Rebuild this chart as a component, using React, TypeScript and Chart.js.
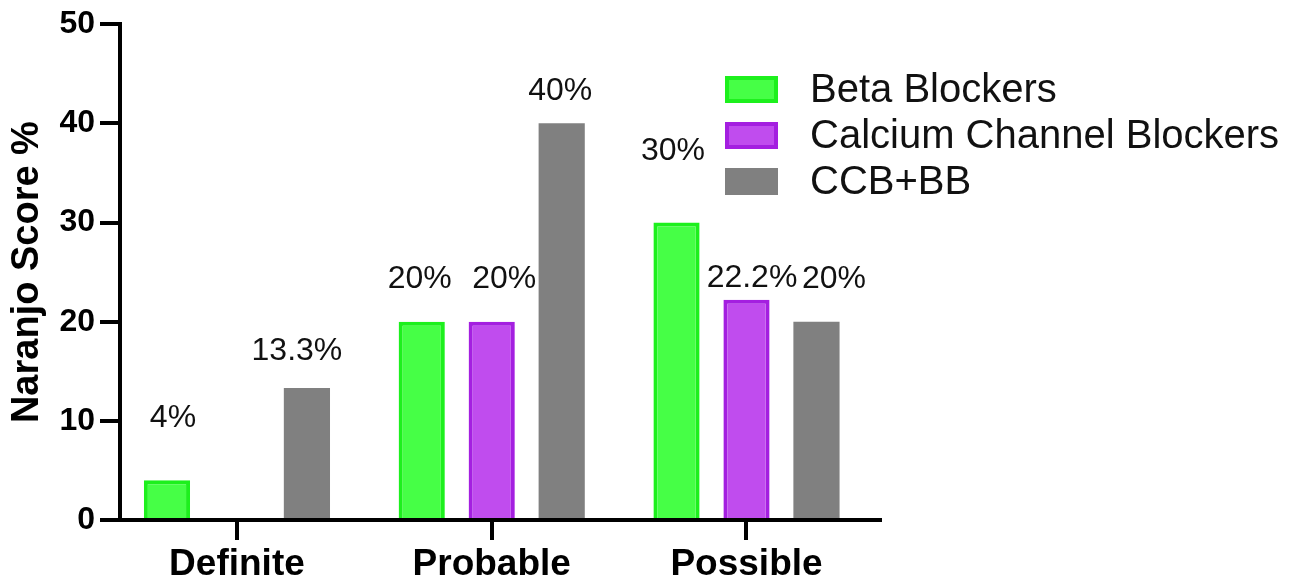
import React, { useEffect, useRef } from "react";
import { Chart, registerables } from "chart.js";

Chart.register(...registerables);

// Naranjo causality categories and the share of cases (%) in each drug group
const categories = ["Definite", "Probable", "Possible"];
const seriesNames = ["Beta Blockers", "Calcium Channel Blockers", "CCB+BB"];
const betaBlockers: (number | null)[] = [4, 20, 30];
const calciumChannelBlockers: (number | null)[] = [null, 20, 22.2];
const ccbPlusBb: (number | null)[] = [13.3, 40, 20];
const yTickValues = [0, 10, 20, 30, 40, 50];

// Hand placement of each value label, in px from the top-centre of its bar
const betaLabelNudge = [[6, -62], [-2, -43], [-3.5, -71]];
const ccbLabelNudge = [[0, 0], [12.5, -43], [5.5, -21.5]];
const comboLabelNudge = [[-10, -37], [-1.5, -32], [17.5, -43]];

const FONT = "'Liberation Sans', Arial, Helvetica, sans-serif";

const seriesStyle = [
  { fill: "#46ff46", border: "#1df01d" },
  { fill: "#c04cee", border: "#a41fe0" },
  { fill: "#808080", border: "#808080" },
];

const valueLabels = {
  id: "valueLabels",
  afterDatasetsDraw(chart: any, _args: any, opts: any) {
    const { ctx } = chart;
    ctx.save();
    ctx.font = `normal 32px ${FONT}`;
    ctx.fillStyle = "#111";
    ctx.textAlign = "center";
    ctx.textBaseline = "middle";
    chart.data.datasets.forEach((ds: any, di: number) => {
      const meta = chart.getDatasetMeta(di);
      meta.data.forEach((bar: any, i: number) => {
        const v = ds.data[i]?.y;
        if (v === null || v === undefined) return;
        const [dx, dy] = opts.nudges[di][i];
        ctx.fillText(`${v}%`, bar.x + dx, bar.y + dy);
      });
    });
    ctx.restore();
  },
};

const boxLegend = {
  id: "boxLegend",
  afterDraw(chart: any, _args: any, opts: any) {
    const { ctx } = chart;
    ctx.save();
    ctx.font = `normal 40px ${FONT}`;
    ctx.textAlign = "left";
    ctx.textBaseline = "middle";
    chart.data.datasets.forEach((ds: any, i: number) => {
      const cy = opts.top + i * opts.rowGap;
      const x = opts.left;
      ctx.fillStyle = ds.backgroundColor;
      ctx.fillRect(x, cy - opts.boxH / 2, opts.boxW, opts.boxH);
      if (ds.borderColor !== ds.backgroundColor) {
        ctx.strokeStyle = ds.borderColor;
        ctx.lineWidth = 4;
        ctx.strokeRect(x + 2, cy - opts.boxH / 2 + 2, opts.boxW - 4, opts.boxH - 4);
      }
      ctx.fillStyle = "#111";
      ctx.fillText(ds.label, x + opts.boxW + 32, cy + 1);
    });
    ctx.restore();
  },
};

export default function App() {
  const canvasRef = useRef<HTMLCanvasElement | null>(null);

  useEffect(() => {
    if (!canvasRef.current) return;
    const seriesValues = [betaBlockers, calciumChannelBlockers, ccbPlusBb];
    const chart = new Chart(canvasRef.current, {
      type: "bar",
      data: {
        datasets: seriesValues.map((vals, si) => ({
          label: seriesNames[si],
          data: vals.map((y, i) => ({ x: i, y })),
          backgroundColor: seriesStyle[si].fill,
          borderColor: seriesStyle[si].border,
          borderWidth: si === 2 ? 0 : 4,
          categoryPercentage: 0.824,
          barPercentage: 0.66,
        })),
      },
      plugins: [valueLabels, boxLegend],
      options: {
        responsive: false,
        animation: false,
        layout: { padding: { top: 23.5, right: 429, left: 0, bottom: 0 } },
        plugins: {
          legend: { display: false },
          tooltip: { enabled: false },
          valueLabels: { nudges: [betaLabelNudge, ccbLabelNudge, comboLabelNudge] },
          boxLegend: { left: 725, top: 89.5, rowGap: 46, boxW: 53, boxH: 27 },
        } as any,
        scales: {
          x: {
            type: "linear",
            min: -0.459,
            max: 2.524,
            offset: false,
            afterFit: (scale: any) => {
              scale.height = 64;
            },
            afterBuildTicks: (scale: any) => {
              scale.ticks = categories.map((_, i) => ({ value: i }));
            },
            ticks: {
              autoSkip: false,
              maxRotation: 0,
              padding: 3,
              color: "#000",
              font: { family: FONT, size: 37, weight: "bold" },
              callback: (v: any) => categories[v as number] ?? "",
            },
            grid: {
              offset: false,
              drawOnChartArea: false,
              drawTicks: true,
              tickLength: 20,
              lineWidth: 4,
              color: "#000",
            },
            border: { display: true, color: "#000", width: 4 },
          },
          y: {
            min: 0,
            max: 50,
            afterFit: (scale: any) => {
              scale.width = 120;
            },
            afterBuildTicks: (scale: any) => {
              scale.ticks = yTickValues.map((v) => ({ value: v }));
            },
            ticks: {
              padding: 5,
              color: "#000",
              font: { family: FONT, size: 32, weight: "bold" },
            },
            grid: {
              drawOnChartArea: false,
              drawTicks: true,
              tickLength: 20,
              lineWidth: 4,
              color: "#000",
            },
            border: { display: true, color: "#000", width: 4 },
            title: {
              display: true,
              text: "Naranjo Score %",
              color: "#000",
              font: { family: FONT, size: 38, weight: "bold" },
              padding: { top: 5, bottom: 0 },
            },
          },
        },
      } as any,
    });
    return () => chart.destroy();
  }, []);

  return (
    <div style={{ position: "fixed", left: 0, top: 0, width: 1309, height: 584, background: "#fff" }}>
      <canvas ref={canvasRef} width={1309} height={584} style={{ display: "block" }} />
    </div>
  );
}
